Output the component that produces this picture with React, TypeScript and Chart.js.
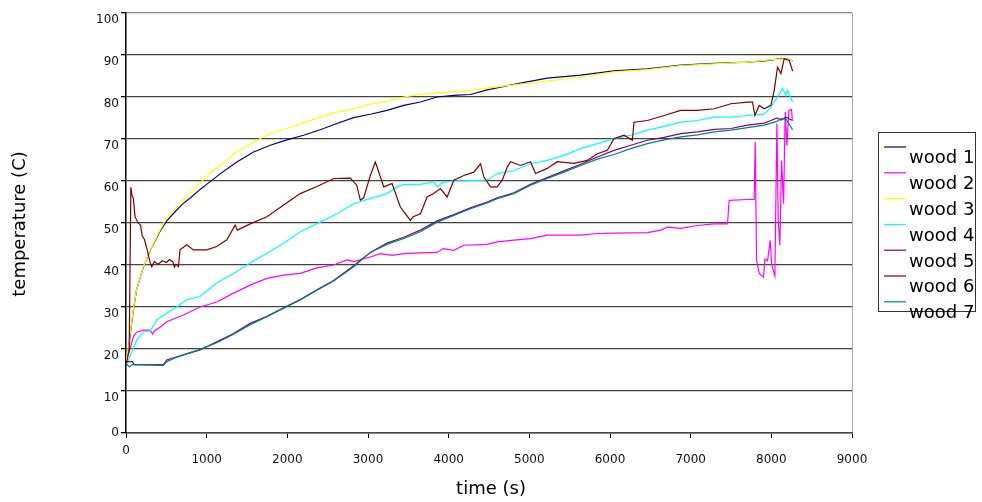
import { useEffect, useRef } from "react";
import { Chart, registerables } from "chart.js";

Chart.register(...registerables);

const seriesNames = ["wood 1", "wood 2", "wood 3", "wood 4", "wood 5", "wood 6", "wood 7"];
const seriesColors = ["#000080", "#FF00FF", "#FFFF00", "#00FFFF", "#800080", "#800000", "#008080"];
const yTicks = [0, 10, 20, 30, 40, 50, 60, 70, 80, 90, 100];
const xTicks = [0, 1000, 2000, 3000, 4000, 5000, 6000, 7000, 8000, 9000];
const xTitle = "time (s)";
const yTitle = "temperature (C)";

// [time (s), temperature (C)]
const wood1: number[][] = [[0,17],[30,20],[90,29],[130,34],[215,39.5],[300,43.5],[420,48],[505,50.5],[600,52.5],[700,54.5],[800,56],[919,58],[1000,59.2],[1167,61.7],[1374,64.5],[1581,66.9],[1788,68.5],[1995,69.8],[2201,70.9],[2408,72.2],[2615,73.7],[2822,75.1],[3029,75.9],[3236,76.8],[3443,78],[3650,78.8],[3857,80],[4064,80.4],[4270,80.6],[4477,81.7],[4808,83],[5222,84.5],[5636,85.2],[6050,86.2],[6464,86.7],[6877,87.6],[7291,88],[7705,88.3],[7912,88.6],[8000,88.8],[8119,89.2],[8200,89],[8264,88.6]];
const wood2: number[][] = [[0,17],[50,20],[91,22.9],[132,24],[215,24.5],[298,24.5],[330,23.6],[360,24.4],[422,25.2],[505,26.5],[712,28.1],[919,30],[1125,31.2],[1333,33.3],[1540,35.2],[1747,36.8],[1954,37.6],[2160,38],[2367,39.3],[2574,40],[2740,41.2],[2822,40.8],[3029,41.9],[3153,42.7],[3300,42.3],[3443,42.7],[3650,42.9],[3857,43],[3930,43.9],[4064,43.5],[4188,44.7],[4477,44.9],[4601,45.5],[4808,45.9],[5015,46.3],[5222,47.1],[5636,47.1],[5843,47.5],[6050,47.6],[6464,47.7],[6629,48.3],[6712,49],[6877,48.7],[7084,49.4],[7291,49.8],[7457,49.8],[7477,55.4],[7705,55.6],[7788,55.6],[7800,69.3],[7817,41.1],[7850,38],[7903,37.1],[7920,41.4],[7953,41],[7986,45.9],[8003,40.2],[8044,37.4],[8069,73.7],[8086,50.6],[8106,44.7],[8127,64.9],[8152,54.6],[8172,76.4],[8193,68.4],[8218,76.8],[8251,77],[8260,74.4]];
const wood3: number[][] = [[0,17],[30,20.5],[90,29.3],[130,34],[215,39.6],[300,43.6],[420,48.3],[505,51.2],[670,54.8],[919,59.5],[1043,61.9],[1167,63.7],[1374,66.9],[1581,69.3],[1788,71.3],[1995,72.5],[2201,73.8],[2408,75.2],[2615,76.4],[2822,77.2],[3029,78.3],[3236,79],[3443,80],[3650,80.6],[3857,81],[4064,81.2],[4270,81.6],[4477,82.1],[4808,82.9],[5222,83.8],[5636,84.8],[6050,86],[6464,86.5],[6877,87.5],[7291,87.9],[7705,88.3],[7912,88.7],[8119,89.1],[8200,89],[8264,88.6]];
const wood4: number[][] = [[0,16],[50,18.2],[132,22.1],[215,24],[298,24.3],[381,26.9],[505,28.5],[629,30],[753,31.7],[919,32.5],[1125,35.7],[1333,38],[1540,40.5],[1747,42.8],[1954,45.2],[2160,47.9],[2408,50.2],[2615,52.2],[2822,54.6],[3029,55.8],[3236,57],[3360,58.6],[3443,59.2],[3650,59.2],[3815,59.8],[3860,58.6],[3920,59.6],[4064,60],[4477,60.2],[4601,61.7],[4808,62.5],[5015,64.1],[5222,64.9],[5429,66.1],[5636,67.7],[5843,68.9],[6050,70.1],[6257,70.9],[6464,72.1],[6671,73],[6877,74],[7084,74.4],[7291,75.2],[7498,75.2],[7705,75.6],[7912,75.9],[7995,77.6],[8077,80],[8139,82],[8181,80.4],[8200,81.6],[8264,78.8]];
const wood5: number[][] = [[0,17],[80,17],[100,16.3],[463,16.3],[505,17.4],[712,18.6],[919,19.8],[1125,21.7],[1333,23.7],[1540,26.1],[1747,27.8],[1954,29.8],[2160,31.8],[2367,34.1],[2574,36.3],[2822,39.8],[3029,43],[3236,45.2],[3443,46.6],[3650,48.3],[3857,50.5],[4064,52],[4270,53.6],[4477,55],[4601,56],[4808,57.2],[5015,59.2],[5222,60.8],[5429,62.4],[5636,64],[5843,65.7],[6050,67.3],[6257,68.5],[6464,69.7],[6671,70.4],[6877,71.3],[7084,71.7],[7291,72.3],[7498,72.5],[7705,73.3],[7912,73.8],[7995,74.4],[8069,75],[8119,74.5],[8181,75.2],[8264,74.4]];
const wood6: number[][] = [[0,16],[40,20],[60,58.5],[75,56.5],[90,56],[112,51.5],[150,50],[180,49.5],[200,47],[230,46],[270,43],[300,40.5],[319,39.6],[350,40.8],[400,40.2],[450,41],[500,40.6],[540,41.3],[580,40.8],[600,39.5],[620,40.2],[650,39.6],[670,43.6],[753,44.8],[836,43.6],[1001,43.6],[1125,44.4],[1250,46],[1353,49.5],[1380,48.3],[1540,49.8],[1747,51.5],[1954,54.3],[2160,57],[2367,58.7],[2574,60.6],[2781,60.7],[2860,59],[2905,55.4],[2946,56],[3029,61.3],[3091,64.5],[3153,61],[3195,58.6],[3298,59.4],[3401,53.8],[3526,50.6],[3560,51.5],[3650,52.2],[3733,56.2],[3815,57],[3898,58.2],[3981,56.2],[4064,60.2],[4188,61.3],[4312,62.1],[4395,64.1],[4436,61],[4519,58.6],[4600,58.6],[4664,60.2],[4726,63.3],[4767,64.6],[4890,63.7],[5015,64.6],[5077,61.8],[5222,63],[5346,64.6],[5553,64.2],[5719,64.9],[5843,66.5],[5967,67.3],[6050,70.1],[6174,70.9],[6277,69.7],[6298,74],[6464,74.4],[6671,75.6],[6877,76.8],[7084,76.8],[7291,77.2],[7498,78.4],[7705,78.8],[7767,78.8],[7796,75.6],[7850,78],[7912,77.2],[7995,78],[8036,81.6],[8077,87.1],[8119,85.6],[8160,89.1],[8222,88.7],[8264,86.2]];
const wood7: number[][] = [[0,16.5],[40,15.8],[80,16.3],[463,16.1],[505,17],[600,17.8],[753,18.9],[919,19.9],[1125,21.5],[1333,23.5],[1540,25.8],[1747,27.7],[1954,29.7],[2160,31.7],[2367,34],[2574,36.2],[2822,39.6],[3029,43],[3236,44.9],[3443,46.3],[3650,47.9],[3857,50.2],[4064,51.8],[4270,53.4],[4477,54.8],[4601,55.8],[4808,57],[5015,59],[5222,60.6],[5429,62.1],[5636,63.7],[5843,65.2],[6050,66.3],[6257,67.7],[6464,68.9],[6671,69.8],[6877,70.5],[7084,71],[7291,71.7],[7498,72.1],[7705,72.7],[7912,73.3],[8069,74.2],[8119,74.8],[8181,74.8],[8264,72.2]];

const seriesData = [wood1, wood2, wood3, wood4, wood5, wood6, wood7];

const overlay = {
  id: "overlay",
  afterDraw(chart: any) {
    const ctx = chart.ctx;
    const xs = chart.scales.x;
    const ys = chart.scales.y;
    ctx.save();
    ctx.fillStyle = "#111";
    ctx.font = "12px 'DejaVu Sans'";
    ctx.textAlign = "right";
    ctx.textBaseline = "middle";
    yTicks.forEach((v) => {
      const py = ys.getPixelForValue(v);
      ctx.fillText(String(v), xs.left - 7, v === 0 ? py : py + 7);
    });
    ctx.textAlign = "center";
    xTicks.forEach((v) => {
      const px = xs.getPixelForValue(v);
      ctx.fillText(String(v), px, ys.bottom + (v === 0 ? 18 : 27));
    });
    ctx.font = "18px 'DejaVu Sans'";
    ctx.fillStyle = "#000";
    ctx.fillText(xTitle, 491, 489);
    ctx.save();
    ctx.translate(20, 224);
    ctx.rotate(-Math.PI / 2);
    ctx.fillText(yTitle, 0, 0);
    ctx.restore();

    // legend
    ctx.strokeStyle = "#333";
    ctx.lineWidth = 1;
    ctx.strokeRect(878.5, 132.5, 97, 179);
    ctx.textAlign = "left";
    ctx.textBaseline = "alphabetic";
    chart.data.datasets.forEach((ds: any, i: number) => {
      const sy = 147 + i * 25.8;
      ctx.strokeStyle = ds.borderColor;
      ctx.lineWidth = 1.2;
      ctx.beginPath();
      ctx.moveTo(884, sy);
      ctx.lineTo(906, sy);
      ctx.stroke();
      ctx.fillStyle = "#000";
      ctx.fillText(ds.label, 909, sy + 16.3);
    });
    ctx.restore();
  },
};

export default function App() {
  const ref = useRef<HTMLCanvasElement | null>(null);
  useEffect(() => {
    if (!ref.current) return;
    const chart = new Chart(ref.current, {
      type: "line",
      data: {
        datasets: seriesNames.map((name, i) => ({
          label: name,
          data: seriesData[i].map(([x, y]) => ({ x, y })),
          borderColor: seriesColors[i],
          backgroundColor: seriesColors[i],
          borderWidth: 1.2,
          pointRadius: 0,
          tension: 0,
          fill: false,
          order: 7 - i,
        })),
      },
      options: {
        animation: false,
        responsive: false,
        events: [],
        layout: { padding: { top: 13, right: 130, left: 0, bottom: 0 } },
        plugins: { legend: { display: false }, tooltip: { enabled: false } },
        scales: {
          x: {
            type: "linear",
            min: 0,
            max: 9000,
            ticks: { stepSize: 1000, display: false },
            grid: {
              drawOnChartArea: true,
              color: (c: any) => (c.tick && c.tick.value === 9000 ? "#aaaaaa" : "rgba(0,0,0,0)"),
              tickColor: "#000",
              tickLength: 5,
              lineWidth: 1,
            },
            border: { color: "#444", width: 1.5 },
            afterFit: (s: any) => {
              s.height = 69;
            },
          },
          y: {
            min: 0,
            max: 100,
            ticks: { stepSize: 10, display: false },
            grid: {
              color: (c: any) => (c.tick && c.tick.value === 100 ? "#888888" : "#444444"),
              tickColor: "#000",
              tickLength: 5,
              lineWidth: 1.3,
            },
            border: { color: "#000", width: 1.5 },
            afterFit: (s: any) => {
              s.width = 126;
            },
          },
        },
      },
      plugins: [overlay],
    } as any);
    return () => chart.destroy();
  }, []);
  return (
    <div style={{ position: "absolute", left: 0, top: 0, width: 982, height: 502, background: "#fff" }}>
      <canvas ref={ref} width={982} height={502} />
    </div>
  );
}
